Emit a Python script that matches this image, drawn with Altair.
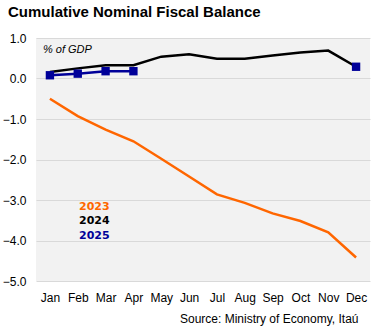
import altair as alt
import pandas as pd

months = ["Jan", "Feb", "Mar", "Apr", "May", "Jun", "Jul", "Aug", "Sep", "Oct", "Nov", "Dec"]
y2023 = [-0.50, -0.93, -1.26, -1.55, -1.98, -2.42, -2.86, -3.07, -3.33, -3.52, -3.80, -4.42]
y2024 = [0.16, 0.25, 0.33, 0.33, 0.54, 0.60, 0.49, 0.49, 0.57, 0.64, 0.69, 0.29]
months2025 = ["Jan", "Feb", "Mar", "Apr"]
y2025 = [0.08, 0.12, 0.18, 0.18]
months2025_extra = ["Dec"]
y2025_extra = [0.29]

legend_labels = ["2023", "2024", "2025"]
legend_y = [-3.17, -3.52, -3.89]
colors = ["#ff6600", "#000000", "#000099"]

df = pd.DataFrame(
    [{"month": m, "value": v, "year": "2023"} for m, v in zip(months, y2023)]
    + [{"month": m, "value": v, "year": "2024"} for m, v in zip(months, y2024)]
    + [{"month": m, "value": v, "year": "2025"} for m, v in zip(months2025, y2025)]
)
df_extra = pd.DataFrame({"month": months2025_extra, "value": y2025_extra, "year": "2025"})
df_leg = pd.DataFrame({"label": legend_labels, "value": legend_y})

FONT = "Liberation Sans"

x_enc = alt.X(
    "month:N", sort=months, scale=alt.Scale(domain=months, padding=0.5),
    axis=alt.Axis(title="Source: Ministry of Economy, Itaú", titleAnchor="end", titleAlign="right",
                  titleX=322, titleY=41, titleBaseline="alphabetic",
                  titleFont=FONT, titleFontSize=12, titleFontWeight="normal", titleColor="#000",
                  labelFont=FONT, labelFontSize=12, labelColor="#000",
                  labelAngle=0, ticks=False, domain=False, grid=False, labelPadding=11),
)
y_scale = alt.Scale(domain=[-5, 1])
y_enc = alt.Y(
    "value:Q", scale=y_scale,
    axis=alt.Axis(title=None, values=[1, 0, -1, -2, -3, -4, -5], format=".1f",
                  labelFont=FONT, labelFontSize=12, labelColor="#000", ticks=False,
                  domain=False, gridColor="#d9d9d9", gridWidth=1, labelPadding=10),
)
color_enc = alt.Color("year:N", scale=alt.Scale(domain=legend_labels, range=colors), legend=None)

lines = alt.Chart(df).mark_line(strokeWidth=2.5).encode(x=x_enc, y=y_enc, color=color_enc)
pts = alt.Chart(df[df.year == "2025"]).mark_square(size=70, opacity=1).encode(
    x=alt.X("month:N", sort=months), y="value:Q", color=color_enc)
pts_extra = alt.Chart(df_extra).mark_square(size=70, opacity=1).encode(
    x=alt.X("month:N", sort=months), y="value:Q", color=color_enc)

unit = alt.Chart(pd.DataFrame({"t": ["% of GDP"]})).mark_text(
    font=FONT, fontSize=11, fontStyle="italic", align="left", baseline="middle", color="#000"
).encode(x=alt.value(7), y=alt.value(12), text="t:N")

leg = alt.Chart(df_leg).mark_text(
    font="DejaVu Sans", fontSize=11, fontWeight="bold", align="left", baseline="middle"
).encode(
    x=alt.value(43), y=alt.Y("value:Q", scale=y_scale), text="label:N",
    color=alt.Color("label:N", scale=alt.Scale(domain=legend_labels, range=colors), legend=None),
)

chart = alt.layer(lines, pts, pts_extra, unit, leg).properties(
    width=334, height=243,
    autosize=alt.AutoSizeParams(type="none"),
    padding={"left": 36, "top": 38, "right": 5, "bottom": 53},
    title=alt.TitleParams("Cumulative Nominal Fiscal Balance", anchor="start", frame="group",
                          font=FONT, fontSize=15, fontWeight="bold", color="#000",
                          dx=-28, offset=12),
    background="white",
).configure_view(fill="#f2f2f2", stroke=None)

chart.save("out.html", embed_options={"renderer": "svg", "actions": False})
